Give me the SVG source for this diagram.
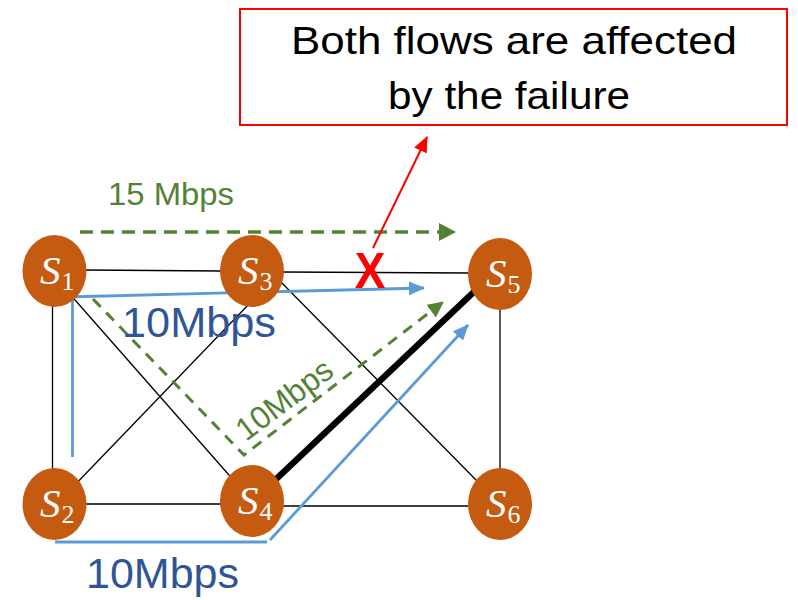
<svg xmlns="http://www.w3.org/2000/svg" width="798" height="600" viewBox="0 0 798 600">
<style>
.edge{stroke:#000;stroke-width:1.3;fill:none}
.blue{stroke:#5B9BD5;stroke-width:2.8;fill:none}
.green{stroke:#548235;fill:none}
.node ellipse{fill:#C55A11}
.lbl{font-family:"Liberation Serif","DejaVu Serif",serif;font-style:italic;fill:#fff;font-size:41px}
.sub{font-size:26px;font-style:normal}
.t{font-family:"Liberation Sans",Arial,sans-serif}
</style>
<defs>
<marker id="ab" viewBox="0 0 16 14" refX="15" refY="7" markerWidth="16" markerHeight="14" markerUnits="userSpaceOnUse" orient="auto"><path d="M0,0 L16,7 L0,14 z" fill="#5B9BD5"/></marker>
<marker id="ag" viewBox="0 0 17 18" refX="16" refY="9" markerWidth="17" markerHeight="18" markerUnits="userSpaceOnUse" orient="auto"><path d="M0,0 L17,9 L0,18 z" fill="#548235"/></marker>
<marker id="ag2" viewBox="0 0 16 16" refX="15" refY="8" markerWidth="16" markerHeight="16" markerUnits="userSpaceOnUse" orient="auto"><path d="M0,0 L16,8 L0,16 z" fill="#548235"/></marker>
<marker id="ar" viewBox="0 0 16 14" refX="15" refY="7" markerWidth="16" markerHeight="14" markerUnits="userSpaceOnUse" orient="auto"><path d="M0,0 L16,7 L0,14 z" fill="#FF0000"/></marker>
</defs>
<g id="connectors">
<line class="edge" x1="86" y1="270" x2="221" y2="271"/>
<line class="edge" x1="283" y1="272" x2="468" y2="273"/>
<line class="edge" x1="52.5" y1="305" x2="52.5" y2="470"/>
<line class="edge" x1="68" y1="292" x2="236" y2="483"/>
<line class="edge" x1="70" y1="490" x2="250" y2="303"/>
<line class="edge" x1="278" y1="279" x2="480" y2="484"/>
<line class="edge" x1="86" y1="504" x2="221" y2="504"/>
<line class="edge" x1="283" y1="506" x2="468" y2="506"/>
<line class="edge" x1="500" y1="308" x2="500" y2="470"/>
<line x1="272" y1="483" x2="478" y2="288" stroke="#000" stroke-width="6.5"/>
<line class="green" x1="80" y1="232" x2="455" y2="232" stroke-width="3.5" stroke-dasharray="13 8" marker-end="url(#ag)"/>
<polyline class="green" points="93,299 244,455 443,302" stroke-width="3" stroke-dasharray="11 8" marker-end="url(#ag2)"/>
<polyline class="blue" points="72.5,457 72.5,298"/>
<line class="blue" x1="66" y1="297" x2="424" y2="288" marker-end="url(#ab)"/>
<line class="blue" x1="55" y1="542" x2="267" y2="542"/>
<line class="blue" x1="270" y1="540" x2="468" y2="325" marker-end="url(#ab)"/>
<line x1="373" y1="248" x2="427" y2="137" stroke="#FF0000" stroke-width="2" marker-end="url(#ar)"/>
</g>
<g id="n1" class="node"><ellipse cx="54.5" cy="271" rx="32" ry="36"/><text class="lbl" x="40" y="284">S<tspan class="sub" dx="1" dy="6">1</tspan></text></g>
<g id="n3" class="node"><ellipse cx="252" cy="271" rx="32" ry="36"/><text class="lbl" x="238" y="284">S<tspan class="sub" dx="1" dy="6">3</tspan></text></g>
<g id="n5" class="node"><ellipse cx="500" cy="274" rx="32" ry="36"/><text class="lbl" x="486" y="287">S<tspan class="sub" dx="1" dy="6">5</tspan></text></g>
<g id="n2" class="node"><ellipse cx="54.5" cy="504" rx="32" ry="36"/><text class="lbl" x="40" y="517">S<tspan class="sub" dx="1" dy="6">2</tspan></text></g>
<g id="n4" class="node"><ellipse cx="252" cy="501" rx="32" ry="36"/><text class="lbl" x="238" y="514">S<tspan class="sub" dx="1" dy="6">4</tspan></text></g>
<g id="n6" class="node"><ellipse cx="500" cy="504" rx="32" ry="36"/><text class="lbl" x="486" y="517">S<tspan class="sub" dx="1" dy="6">6</tspan></text></g>
<g id="callout">
<rect x="240" y="9" width="547" height="116" fill="#fff" stroke="#FF0000" stroke-width="2"/>
<text class="t" x="514" y="54" font-size="39" text-anchor="middle" textLength="446" lengthAdjust="spacingAndGlyphs">Both flows are affected</text>
<text class="t" x="509" y="109" font-size="39" text-anchor="middle" textLength="242" lengthAdjust="spacingAndGlyphs">by the failure</text>
</g>
<g id="labels">
<text class="t" x="108" y="205" font-size="32" fill="#548235" textLength="126" lengthAdjust="spacingAndGlyphs">15 Mbps</text>
<text class="t" x="122" y="337" font-size="43" fill="#2F5597" textLength="154" lengthAdjust="spacingAndGlyphs">10Mbps</text>
<text class="t" x="86" y="588" font-size="43" fill="#2F5597" textLength="153" lengthAdjust="spacingAndGlyphs">10Mbps</text>
<text class="t" font-size="32" fill="#548235" transform="translate(246,442) rotate(-37)" textLength="112" lengthAdjust="spacingAndGlyphs">10Mbps</text>
<text class="t" x="370" y="288" font-size="46" font-weight="bold" fill="#FF0000" text-anchor="middle" transform="translate(370,288) scale(1,1.1) translate(-370,-288)">X</text>
</g>
</svg>
